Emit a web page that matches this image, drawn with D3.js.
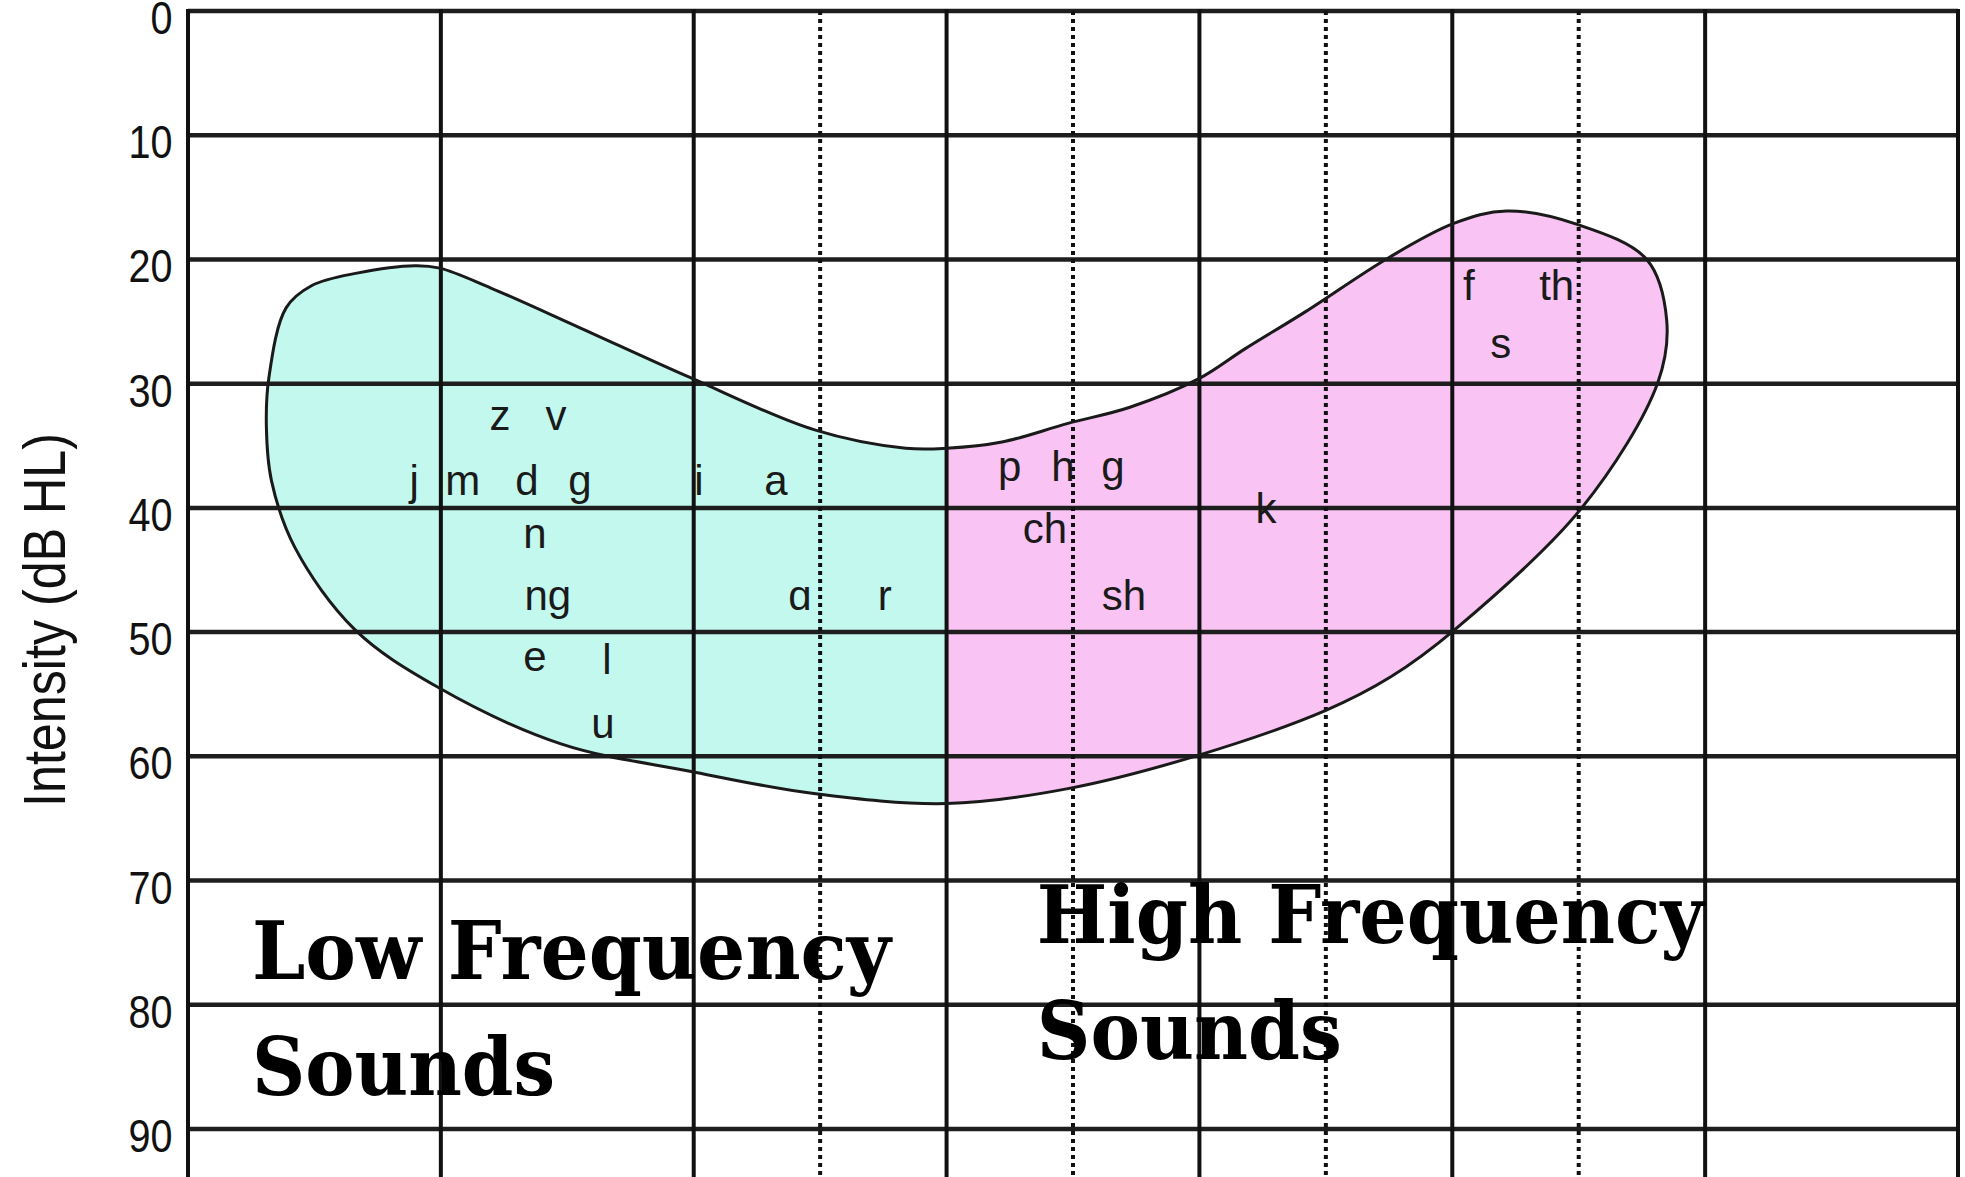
<!DOCTYPE html>
<html>
<head>
<meta charset="utf-8">
<script src="https://cdn.jsdelivr.net/npm/d3@7"></script>
<style>
  html, body { margin: 0; padding: 0; background: #fff; }
  svg { display: block; }
</style>
</head>
<body>
<div id="chart"></div>
<script>
const width = 1965;
const height = 1177;

// Audiogram grid: x in octaves above 125 Hz, y in dB HL
const dbTicks = [0, 10, 20, 30, 40, 50, 60, 70, 80, 90];
const octaveLines = [0, 1, 2, 3, 4, 5, 6, 7];       // 125 Hz ... 16 kHz
const halfOctaveLines = [2.5, 3.5, 4.5, 5.5];       // 750, 1500, 3000, 6000 Hz
const splitOctave = 3;                               // 1000 Hz divides low / high

// Speech banana outline, [octave, dB HL], clockwise from the top-left hump
const bananaOutline = [
    [0.996, 20.7], [1.198, 22.3], [1.550, 25.5], [1.985, 29.5], [2.475, 33.7],
    [2.839, 35.2], [3.001, 35.2], [3.219, 34.7], [3.480, 33.2], [3.725, 31.9],
    [3.998, 29.6], [4.180, 27.2], [4.420, 24.2], [4.745, 19.9], [5.006, 17.1],
    [5.215, 16.1], [5.497, 17.2], [5.769, 20.0], [5.848, 24.9], [5.813, 29.9],
    [5.512, 40.0], [5.010, 49.8], [4.757, 53.6],
    [4.500, 56.3], [3.998, 59.9], [3.480, 62.6], [3.001, 63.8], [2.475, 63.0],
    [1.985, 61.2], [1.475, 59.0], [0.985, 54.4], [0.660, 49.8], [0.423, 43.2],
    [0.330, 37.8], [0.310, 33.5], [0.320, 29.5], [0.388, 23.9], [0.490, 22.1],
    [0.668, 21.1], [0.898, 20.5]
];

// Speech sounds placed on the banana
const phonemes   = ["z", "v", "j", "m", "d", "g", "i", "a", "n", "ng", "ɑ", "r", "e", "l", "u",
                    "p", "h", "g", "ch", "sh", "k", "f", "th", "s"];
const phonemeOct = [1.234, 1.455, 0.894, 1.087, 1.340, 1.550, 2.021, 2.325, 1.372, 1.423, 2.420, 2.756,
                    1.372, 1.657, 1.641, 3.250, 3.460, 3.658, 3.389, 3.701, 4.263, 5.065, 5.413, 5.192];
const phonemeDb  = [33.7, 33.7, 39.0, 39.0, 39.0, 39.0, 39.0, 39.0, 43.2, 48.2, 48.2, 48.2,
                    53.1, 53.4, 58.5, 37.8, 37.8, 37.8, 42.8, 48.2, 41.2, 23.3, 23.3, 27.9];

// Region captions
const captionText = [["Low Frequency", "Sounds"], ["High Frequency", "Sounds"]];
const captionOct  = [0.253, 3.357];
const captionDb   = [[77.9, 87.3], [75.0, 84.4]];

const svg = d3.select("#chart")
    .append("svg")
    .attr("width", width)
    .attr("height", height)
    .style("background", "#fff");

const x = d3.scaleLinear().domain([0, 7]).range([188, 1958]);
const y = d3.scaleLinear().domain([0, 90]).range([11, 1129]);

const banana = d3.line()
    .x(d => x(d[0]))
    .y(d => y(d[1]))
    .curve(d3.curveCatmullRomClosed.alpha(0.5));

// clip halves of the banana at 1000 Hz
const defs = svg.append("defs");
defs.append("clipPath").attr("id", "lowClip")
    .append("rect")
    .attr("x", 0).attr("y", 0)
    .attr("width", x(splitOctave)).attr("height", height);
defs.append("clipPath").attr("id", "highClip")
    .append("rect")
    .attr("x", x(splitOctave)).attr("y", 0)
    .attr("width", width - x(splitOctave)).attr("height", height);

svg.append("path")
    .attr("d", banana(bananaOutline))
    .attr("fill", "#c3f8ef")
    .attr("clip-path", "url(#lowClip)");
svg.append("path")
    .attr("d", banana(bananaOutline))
    .attr("fill", "#f9c4f3")
    .attr("clip-path", "url(#highClip)");

// horizontal grid
svg.selectAll(".hgrid")
    .data(dbTicks)
    .enter().append("line")
    .attr("class", "hgrid")
    .attr("x1", x(0)).attr("x2", x(7))
    .attr("y1", d => y(d)).attr("y2", d => y(d))
    .attr("stroke", "#1e1e1e")
    .attr("stroke-width", 4.5);

// octave lines
svg.selectAll(".vgrid")
    .data(octaveLines)
    .enter().append("line")
    .attr("class", "vgrid")
    .attr("x1", d => x(d)).attr("x2", d => x(d))
    .attr("y1", y(0) - 2).attr("y2", height)
    .attr("stroke", "#111")
    .attr("stroke-width", 4);

// half-octave dotted lines
svg.selectAll(".dgrid")
    .data(halfOctaveLines)
    .enter().append("line")
    .attr("class", "dgrid")
    .attr("x1", d => x(d)).attr("x2", d => x(d))
    .attr("y1", y(0)).attr("y2", height)
    .attr("stroke", "#111")
    .attr("stroke-width", 4)
    .attr("stroke-dasharray", "4,4");

// banana outline
svg.append("path")
    .attr("d", banana(bananaOutline))
    .attr("fill", "none")
    .attr("stroke", "#1a1a1a")
    .attr("stroke-width", 3);

// y axis labels (narrow, tall digits)
const yAxis = d3.axisLeft(y).tickValues(dbTicks).tickSize(0).tickPadding(18);
const gy = svg.append("g")
    .attr("transform", `translate(${x(0)},0)`)
    .call(yAxis);
gy.select(".domain").remove();
gy.selectAll("text")
    .attr("dy", "0.49em")
    .attr("transform", "scale(0.86,1)")
    .attr("fill", "#111")
    .style("font-family", "'Liberation Sans', Arial, sans-serif")
    .style("font-size", "46px");

svg.append("text")
    .attr("transform", "translate(65,620) rotate(-90)")
    .attr("text-anchor", "middle")
    .attr("textLength", 374)
    .attr("lengthAdjust", "spacingAndGlyphs")
    .attr("fill", "#111")
    .style("font-family", "'Liberation Sans', Arial, sans-serif")
    .style("font-size", "60px")
    .text("Intensity (dB HL)");

// phoneme labels
svg.selectAll(".phoneme")
    .data(phonemes)
    .enter().append("text")
    .attr("class", "phoneme")
    .attr("x", (d, i) => x(phonemeOct[i]))
    .attr("y", (d, i) => y(phonemeDb[i]))
    .attr("text-anchor", "middle")
    .attr("fill", "#1a1a1a")
    .style("font-family", "'Liberation Sans', Arial, sans-serif")
    .style("font-size", "42px")
    .text(d => d);

// captions
const captionWidths = [[639, 303], [667, 305]];
captionText.forEach((lines, i) => {
    lines.forEach((t, j) => {
        svg.append("text")
            .attr("x", x(captionOct[i]))
            .attr("y", y(captionDb[i][j]))
            .attr("textLength", captionWidths[i][j])
            .attr("lengthAdjust", "spacingAndGlyphs")
            .attr("fill", "#000")
            .style("font-family", "'DejaVu Serif', 'Liberation Serif', serif")
            .style("font-weight", "bold")
            .style("font-size", "80px")
            .text(t);
    });
});
</script>
</body>
</html>
